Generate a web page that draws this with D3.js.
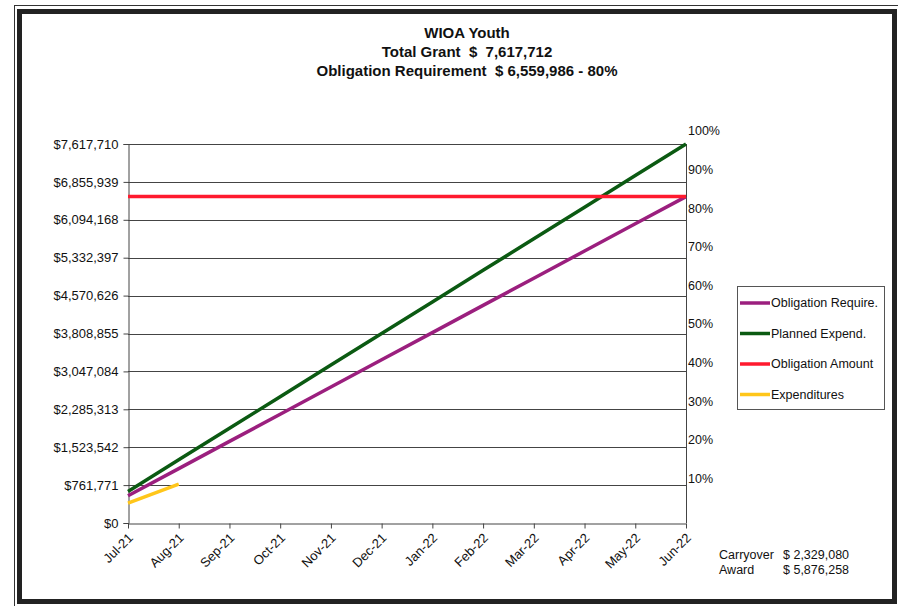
<!DOCTYPE html>
<html>
<head>
<meta charset="utf-8">
<script src="https://cdn.jsdelivr.net/npm/d3@7"></script>
<style>
  body { margin: 0; background: #fff; }
  svg { display: block; font-family: "Liberation Sans", Arial, sans-serif; }
  text { white-space: pre; }
</style>
</head>
<body>
<svg id="chart" width="898" height="606"></svg>
<script>
const months = ["Jul-21", "Aug-21", "Sep-21", "Oct-21", "Nov-21", "Dec-21",
                "Jan-22", "Feb-22", "Mar-22", "Apr-22", "May-22", "Jun-22"];

const yTicks = [0, 761771, 1523542, 2285313, 3047084, 3808855, 4570626,
                5332397, 6094168, 6855939, 7617710];
const pctTicks = [0.1, 0.2, 0.3, 0.4, 0.5, 0.6, 0.7, 0.8, 0.9, 1.0];

const obligationRequire = [546666, 1093331, 1639997, 2186662, 2733328, 3279993,
                           3826659, 4373324, 4919990, 5466655, 6013321, 6559986];
const plannedExpend = [634809, 1269619, 1904428, 2539237, 3174047, 3808856,
                       4443665, 5078475, 5713284, 6348093, 6982903, 7617712];
const obligationAmount = [6559986, 6559986, 6559986, 6559986, 6559986, 6559986,
                          6559986, 6559986, 6559986, 6559986, 6559986, 6559986];
const expenditures = [400000, 780000];

const titles = ["WIOA Youth", "Total Grant  $  7,617,712", "Obligation Requirement  $ 6,559,986 - 80%"];

const series = [
  { name: "Obligation Require.", values: obligationRequire, color: "#9b1f7e" },
  { name: "Planned Expend.", values: plannedExpend, color: "#0b5a12" },
  { name: "Obligation Amount", values: obligationAmount, color: "#ff1a2e" },
  { name: "Expenditures", values: expenditures, color: "#ffc61a" }
];

const svg = d3.select("#chart");

// frame
svg.append("rect").attr("x", 14.5).attr("y", 5.5).attr("width", 890).attr("height", 604)
  .attr("fill", "none").attr("stroke", "#333").attr("stroke-width", 1);
svg.append("rect").attr("x", 19.5).attr("y", 11.5).attr("width", 875).attr("height", 590)
  .attr("fill", "none").attr("stroke", "#222").attr("stroke-width", 5);

// titles
svg.selectAll(".title").data(titles).enter().append("text")
  .attr("class", "title")
  .attr("x", 467).attr("y", (d, i) => 38 + i * 19)
  .attr("text-anchor", "middle")
  .attr("font-size", 15).attr("font-weight", "bold").attr("fill", "#111")
  .text(d => d);

const plotLeft = 128, plotRight = 686, plotTop = 144, plotBottom = 523;

const x = d3.scalePoint().domain(months).range([plotLeft, plotRight]);
const y = d3.scaleLinear().domain([0, 7617710]).range([plotBottom, plotTop]);
const yPct = d3.scaleLinear().domain([0, 1]).range([517, 131]);

// gridlines
svg.append("g").selectAll("line").data(yTicks.slice(1)).enter().append("line")
  .attr("x1", plotLeft).attr("x2", plotRight)
  .attr("y1", d => Math.round(y(d)) + 0.5).attr("y2", d => Math.round(y(d)) + 0.5)
  .attr("stroke", "#444").attr("stroke-width", 1);

// left axis
const yAxis = svg.append("g").attr("transform", `translate(${plotLeft + 0.5},0)`)
  .call(d3.axisLeft(y).tickValues(yTicks).tickSize(5).tickPadding(5)
    .tickFormat(d => "$" + d3.format(",")(d)));
yAxis.select(".domain").attr("stroke", "#444");
yAxis.selectAll(".tick line").attr("stroke", "#444");
yAxis.selectAll("text").attr("font-size", 13).attr("fill", "#111")
  .attr("font-family", "Liberation Sans, Arial, sans-serif");

// bottom axis
const xAxis = svg.append("g").attr("transform", `translate(0,${plotBottom + 0.5})`)
  .call(d3.axisBottom(x).tickSize(5).tickSizeOuter(0));
xAxis.select(".domain").attr("stroke", "#444");
xAxis.selectAll(".tick line").attr("stroke", "#444");
xAxis.selectAll("text")
  .attr("font-size", 13).attr("fill", "#111")
  .attr("font-family", "Liberation Sans, Arial, sans-serif")
  .attr("text-anchor", "end")
  .attr("y", 0).attr("dx", "-0.1em").attr("dy", "0.35em")
  .attr("transform", "translate(3,11) rotate(-45)");

// right axis line + percent labels
svg.append("line").attr("x1", plotRight + 0.5).attr("x2", plotRight + 0.5)
  .attr("y1", plotTop).attr("y2", plotBottom).attr("stroke", "#444");
svg.append("g").selectAll("text").data(pctTicks).enter().append("text")
  .attr("x", plotRight + 2).attr("y", d => yPct(d))
  .attr("dy", "0.35em")
  .attr("font-size", 12.5).attr("fill", "#111")
  .text(d => d3.format(".0%")(d));

// lines
const line = d3.line().x((d, i) => x(months[i])).y(d => y(d));
svg.append("g").selectAll("path").data(series).enter().append("path")
  .attr("d", d => line(d.values))
  .attr("fill", "none")
  .attr("stroke", d => d.color)
  .attr("stroke-width", 3.5);

// legend
const lg = svg.append("g");
lg.append("rect").attr("x", 737.5).attr("y", 286.5).attr("width", 147).attr("height", 123)
  .attr("fill", "#fff").attr("stroke", "#555");
const item = lg.selectAll(".item").data(series).enter().append("g")
  .attr("transform", (d, i) => `translate(740,${303 + i * 30.5})`);
item.append("line").attr("x1", 0).attr("x2", 30)
  .attr("stroke", d => d.color).attr("stroke-width", 3.5);
item.append("text").attr("x", 31).attr("dy", "0.35em")
  .attr("font-size", 12.5).attr("fill", "#111").text(d => d.name);

// notes
const notes = [["Carryover", "$ 2,329,080"], ["Award", "$ 5,876,258"]];
const ng = svg.append("g").selectAll("g").data(notes).enter().append("g")
  .attr("transform", (d, i) => `translate(719,${559 + i * 15})`);
ng.append("text").attr("font-size", 12.5).attr("fill", "#111").text(d => d[0]);
ng.append("text").attr("x", 64).attr("font-size", 12.5).attr("fill", "#111").text(d => d[1]);
</script>
</body>
</html>
